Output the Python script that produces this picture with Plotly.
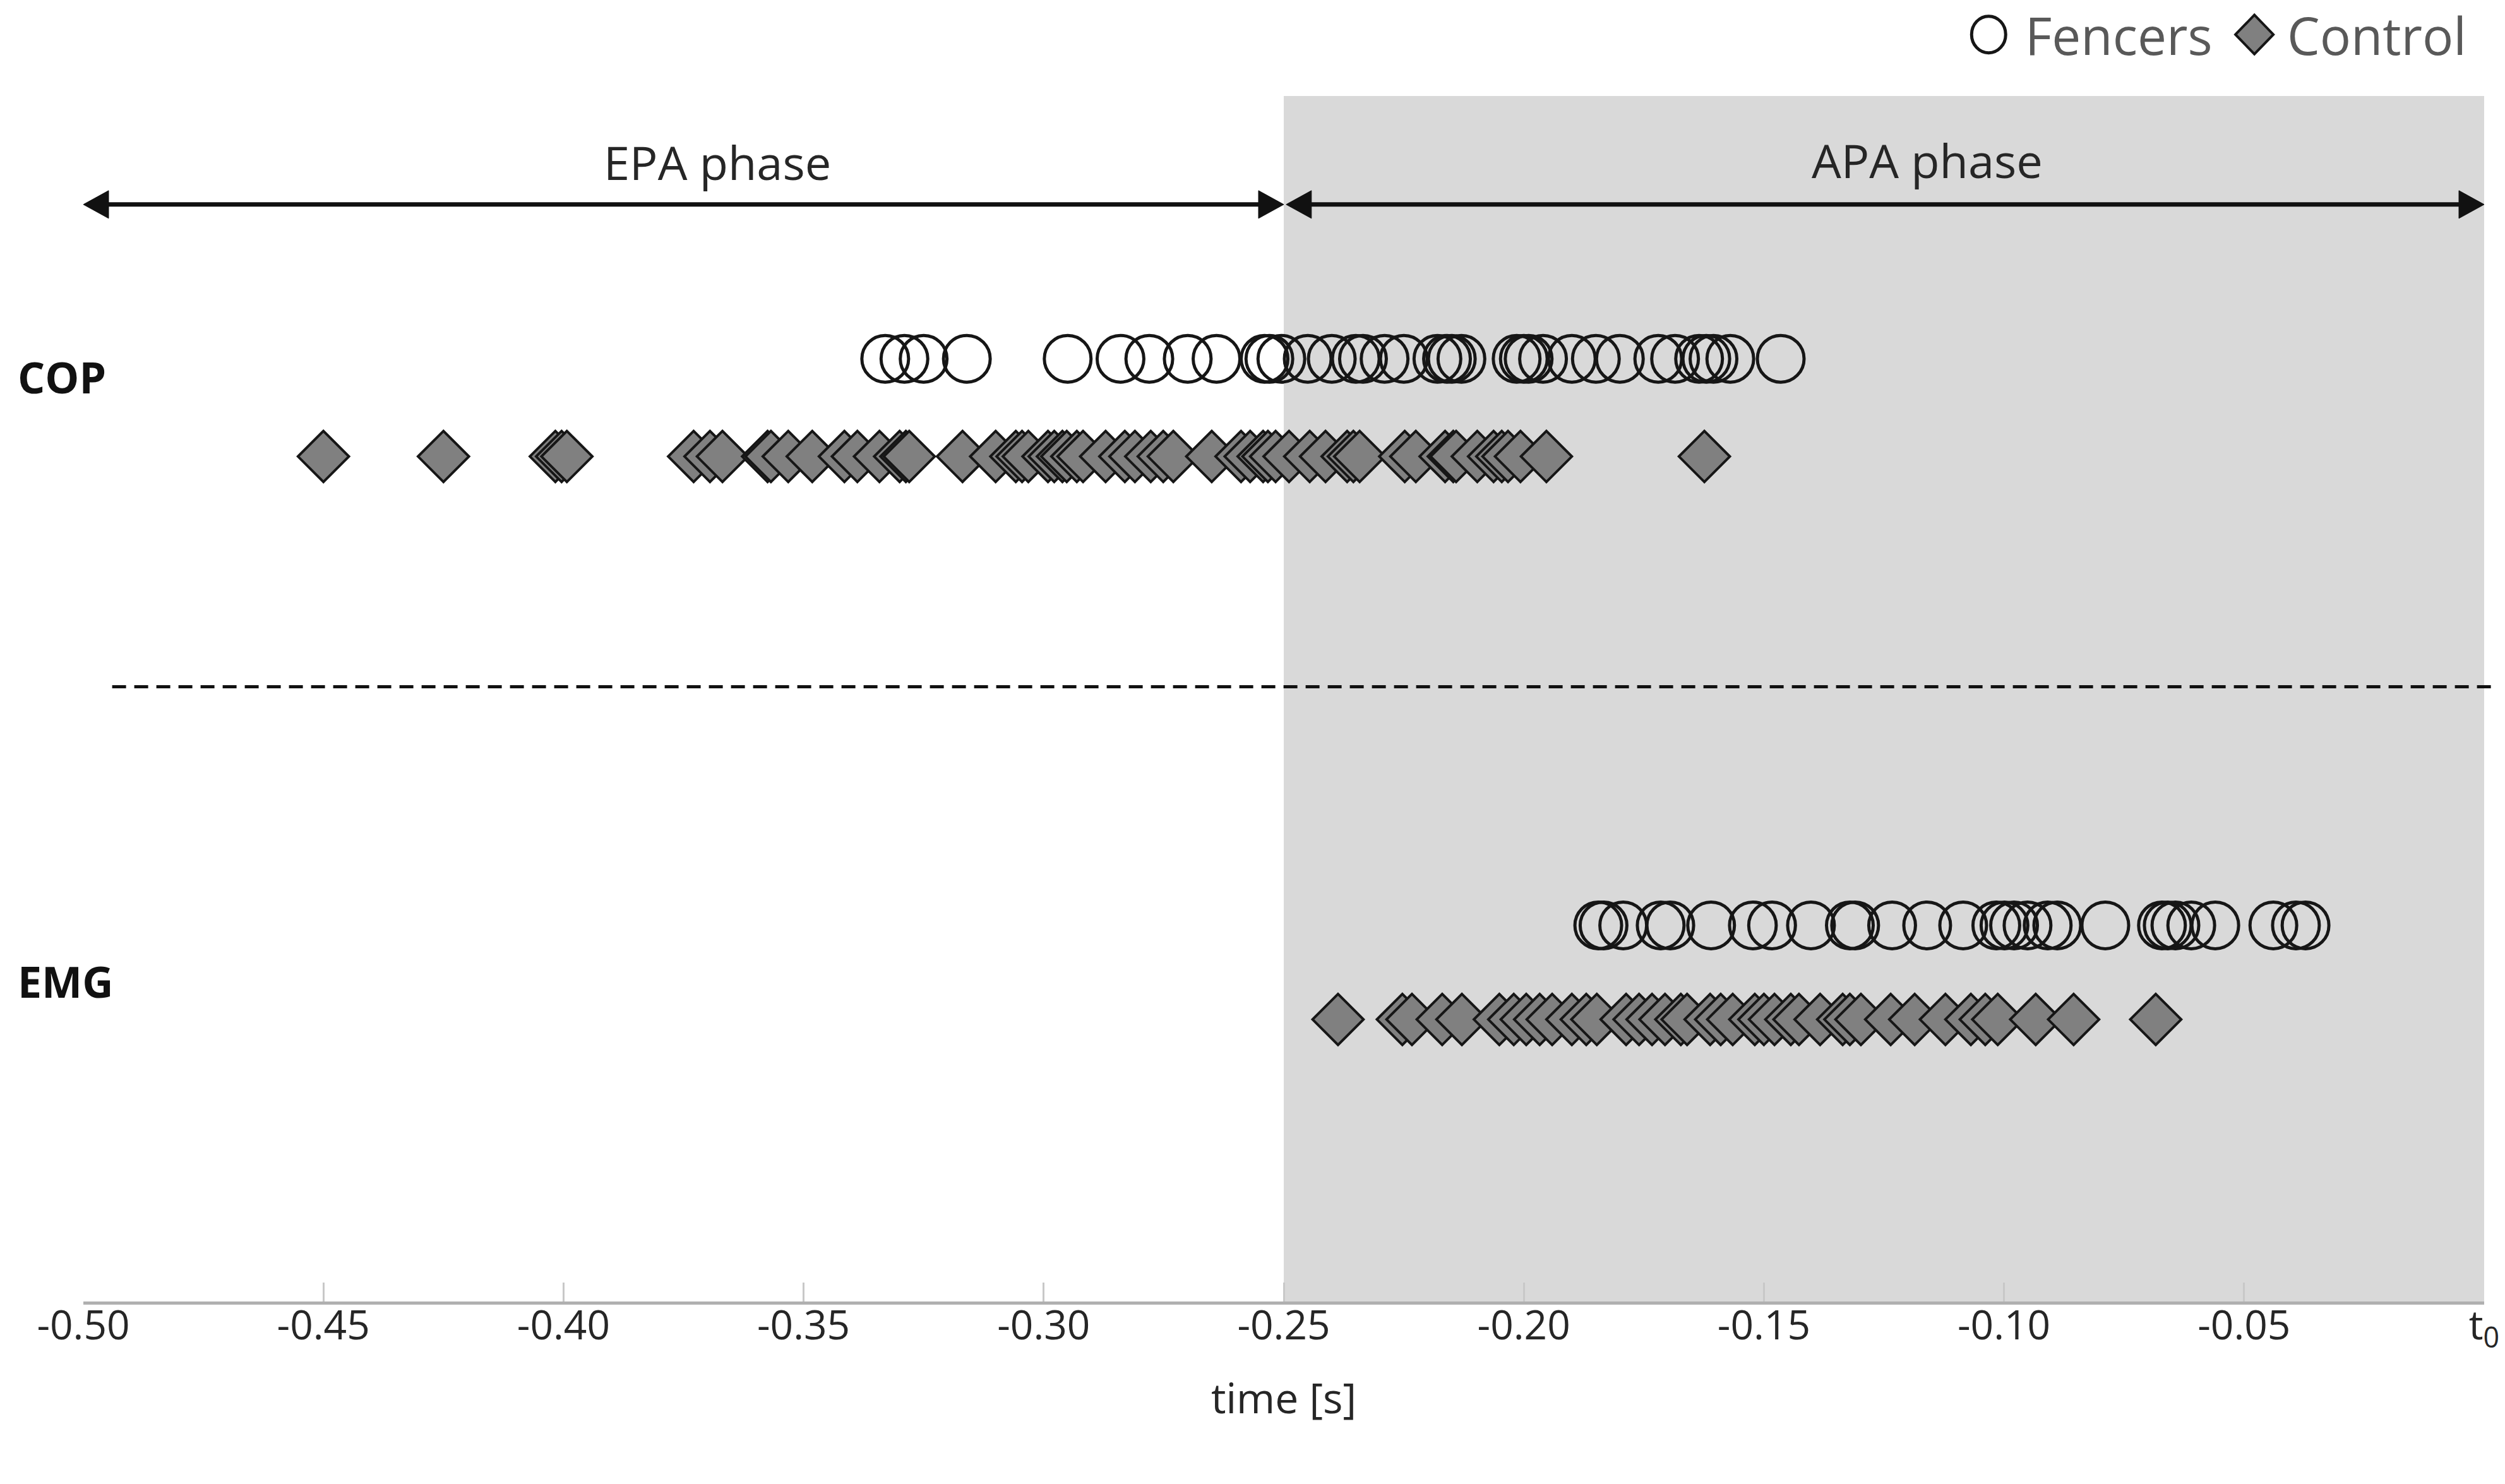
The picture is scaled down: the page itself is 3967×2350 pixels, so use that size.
import plotly.graph_objects as go

# ---------------- data (time in seconds, t0 = 0) ----------------
cop_fencers = [-0.333, -0.329, -0.325, -0.316, -0.295, -0.284, -0.278, -0.270, -0.264,
               -0.254, -0.253, -0.2505, -0.245, -0.240, -0.235, -0.2335, -0.229, -0.225,
               -0.218, -0.216, -0.215, -0.213, -0.2015, -0.200, -0.199, -0.196, -0.190,
               -0.185, -0.180, -0.172, -0.1685, -0.1635, -0.162, -0.1605, -0.157, -0.1465]

cop_control = [-0.450, -0.425, -0.4017, -0.4004, -0.3993, -0.3729, -0.3695, -0.3669,
               -0.3575, -0.3568, -0.3532, -0.3482, -0.3415, -0.3388, -0.3342, -0.330,
               -0.3287, -0.328, -0.3169, -0.310, -0.3058, -0.3045, -0.3032, -0.2991,
               -0.2978, -0.2961, -0.2952, -0.2931, -0.2918, -0.2871, -0.2831, -0.2810,
               -0.2777, -0.2751, -0.2730, -0.2650, -0.2589, -0.2570, -0.2543, -0.2533,
               -0.2517, -0.2489, -0.2446, -0.2413, -0.2368, -0.2355, -0.2342, -0.2248,
               -0.2225, -0.2164, -0.2147, -0.2141, -0.2097, -0.2063, -0.2046, -0.2033,
               -0.2007, -0.1953, -0.1624]

emg_fencers = [-0.1845, -0.1834, -0.1793, -0.1715, -0.1695, -0.161, -0.1523, -0.1483,
               -0.1402, -0.1321, -0.131, -0.1233, -0.116, -0.1085, -0.1016, -0.0999,
               -0.0979, -0.0951, -0.0909, -0.0889, -0.0789, -0.0671, -0.0659, -0.0643,
               -0.061, -0.056, -0.0439, -0.0392, -0.0372]

emg_control = [-0.2387, -0.2253, -0.2233, -0.2170, -0.2129, -0.2051, -0.2021, -0.1995,
               -0.1967, -0.1941, -0.1900, -0.1870, -0.1848, -0.1787, -0.1760, -0.1733,
               -0.1706, -0.1673, -0.1660, -0.1612, -0.1590, -0.1565, -0.1519, -0.1500,
               -0.1478, -0.1444, -0.1427, -0.1383, -0.1336, -0.1321, -0.1298, -0.1236,
               -0.1186, -0.1122, -0.1069, -0.1039, -0.1013, -0.0934, -0.0855, -0.0684]

tick_vals = [-0.50, -0.45, -0.40, -0.35, -0.30, -0.25, -0.20, -0.15, -0.10, -0.05, 0.0]
tick_text = ["-0.50", "-0.45", "-0.40", "-0.35", "-0.30", "-0.25", "-0.20", "-0.15",
             "-0.10", "-0.05", "t<sub>0</sub>"]

series_names = ["Fencers", "Control"]
row_labels = ["COP", "EMG"]
phase_labels = ["EPA phase", "APA phase"]
phase_bounds = [(-0.50, -0.25), (-0.2495, 0.0)]

# ---------------- layout constants ----------------
W, H = 3967, 2350
FONT = "Open Sans"
ROW_Y = {"cop_f": 0.782, "cop_c": 0.701, "emg_f": 0.312, "emg_c": 0.234}
LABEL_Y = {"COP": 0.767, "EMG": 0.266}
ARROW_Y = 0.91
CIRCLE = dict(symbol="circle-open", size=74, color="#161616", line=dict(width=5, color="#161616"))
DIAMOND = dict(symbol="diamond", size=62, color="#808080", line=dict(width=4, color="#161616"))

fig = go.Figure()

def add_row(xs, key, marker, name):
    fig.add_trace(go.Scatter(x=xs, y=[ROW_Y[key]] * len(xs), mode="markers",
                             marker=marker, name=name, showlegend=False,
                             hoverinfo="x+name"))

add_row(cop_fencers, "cop_f", CIRCLE, series_names[0])
add_row(cop_control, "cop_c", DIAMOND, series_names[1])
add_row(emg_fencers, "emg_f", CIRCLE, series_names[0])
add_row(emg_control, "emg_c", DIAMOND, series_names[1])

shapes = [
    # APA shaded phase
    dict(type="rect", xref="x", yref="paper", x0=-0.25, x1=0.0, y0=0, y1=1,
         fillcolor="#d9d9d9", line=dict(width=0), layer="below"),
    # dashed separator
    dict(type="line", xref="paper", yref="paper", x0=0.012, x1=1.003, y0=0.51, y1=0.51,
         line=dict(color="#111111", width=5, dash="22px,13px")),
    # legend symbols
    dict(type="circle", xref="paper", yref="paper", xsizemode="pixel", ysizemode="pixel",
         xanchor=0.7936, yanchor=1.051, x0=-27, x1=27, y0=-29, y1=29,
         line=dict(color="#161616", width=5), fillcolor="rgba(0,0,0,0)"),
    dict(type="path", xref="paper", yref="paper", xsizemode="pixel", ysizemode="pixel",
         xanchor=0.9043, yanchor=1.051, path="M -30,0 L 0,31 L 30,0 L 0,-31 Z",
         line=dict(color="#161616", width=4), fillcolor="#808080"),
]

# double-headed phase arrows (line + two filled heads)
HEAD_L, HEAD_H = 40, 22
pad = 30 / 7605.0
for a, b in phase_bounds:
    shapes.append(dict(type="line", xref="x", yref="paper", x0=a + pad, x1=b - pad,
                       y0=ARROW_Y, y1=ARROW_Y, line=dict(color="#111111", width=7)))
    shapes.append(dict(type="path", xref="x", yref="paper", xsizemode="pixel",
                       ysizemode="pixel", xanchor=a, yanchor=ARROW_Y,
                       path=f"M 0,0 L {HEAD_L},{HEAD_H} L {HEAD_L},-{HEAD_H} Z",
                       fillcolor="#111111", line=dict(color="#111111", width=1)))
    shapes.append(dict(type="path", xref="x", yref="paper", xsizemode="pixel",
                       ysizemode="pixel", xanchor=b, yanchor=ARROW_Y,
                       path=f"M 0,0 L -{HEAD_L},{HEAD_H} L -{HEAD_L},-{HEAD_H} Z",
                       fillcolor="#111111", line=dict(color="#111111", width=1)))

annotations = [
    dict(x=-0.368, y=0.945, xref="x", yref="paper", yanchor="middle", text=phase_labels[0],
         showarrow=False, font=dict(family=FONT, size=74, color="#262626")),
    dict(x=-0.116, y=0.947, xref="x", yref="paper", yanchor="middle", text=phase_labels[1],
         showarrow=False, font=dict(family=FONT, size=74, color="#262626")),
    # row labels
    dict(x=-0.028, y=LABEL_Y["COP"], xref="paper", yref="paper", xanchor="left",
         yanchor="middle", text="<b>" + row_labels[0] + "</b>", showarrow=False,
         font=dict(family=FONT, size=68, color="#111111")),
    dict(x=-0.028, y=LABEL_Y["EMG"], xref="paper", yref="paper", xanchor="left",
         yanchor="middle", text="<b>" + row_labels[1] + "</b>", showarrow=False,
         font=dict(family=FONT, size=68, color="#111111")),
    # legend texts
    dict(x=0.8083, y=1.051, xref="paper", yref="paper", xanchor="left", yanchor="middle",
         text=series_names[0], showarrow=False, font=dict(family=FONT, size=82, color="#595959")),
    dict(x=0.9174, y=1.051, xref="paper", yref="paper", xanchor="left", yanchor="middle",
         text=series_names[1], showarrow=False, font=dict(family=FONT, size=82, color="#595959")),
]

fig.update_layout(
    width=W, height=H,
    margin=dict(l=132, r=33, t=152, b=289, autoexpand=False),
    paper_bgcolor="white", plot_bgcolor="white",
    font=dict(family=FONT, color="#262626"),
    showlegend=False,
    shapes=shapes, annotations=annotations,
    xaxis=dict(range=[-0.5, 0.0], tickvals=tick_vals, ticktext=tick_text,
               showgrid=False, zeroline=False, showline=True, linecolor="#b0b0b0",
               linewidth=5, ticks="inside", ticklen=30, tickwidth=3, tickcolor="#c8c8c8",
               tickfont=dict(family=FONT, size=64, color="#262626"),
               ticklabelstandoff=-22,
               title=dict(text="time [s]", font=dict(family=FONT, size=66, color="#262626"),
                          standoff=47),
               automargin=False, fixedrange=True),
    yaxis=dict(range=[0, 1], visible=False, fixedrange=True),
)

fig.write_html("out.html", config={"displayModeBar": False},
               post_script="document.body.style.margin='0';")
